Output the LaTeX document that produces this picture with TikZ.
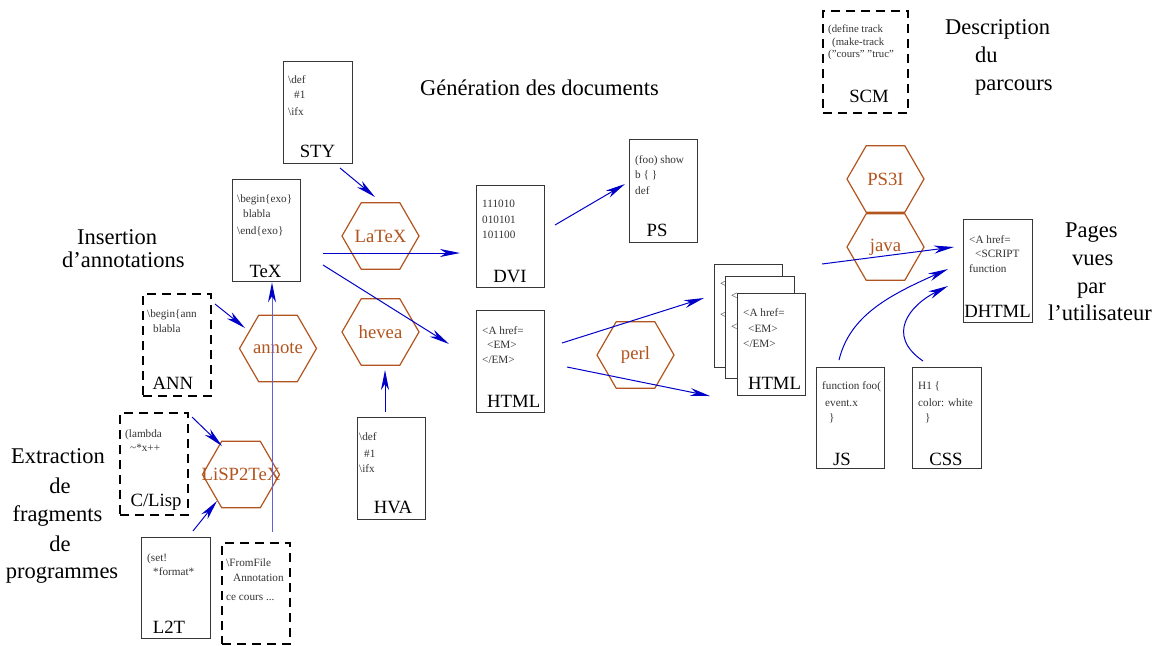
\documentclass[tikz,border=0pt]{standalone}
\usepackage{fontspec}
\setmainfont{Liberation Serif}
\usetikzlibrary{arrows.meta,shapes.geometric}
\definecolor{hexc}{RGB}{178,84,30}
\definecolor{arrc}{RGB}{0,0,200}
\definecolor{vlc}{RGB}{95,95,225}
\definecolor{boxc}{RGB}{55,55,55}
\begin{document}
\begin{tikzpicture}[x=1pt,y=-1pt,
 docbox/.style={draw=boxc, line width=1.3pt, fill=white, rectangle, inner sep=0pt, anchor=north west},
 dashbox/.style={draw=black, line width=2pt, dash pattern=on 9pt off 6pt, rectangle, inner sep=0pt, anchor=north west},
 hexbox/.style={regular polygon, regular polygon sides=6, minimum size=77pt, inner sep=0pt, outer sep=0pt, draw=hexc, line width=1.2pt},
 hexlab/.style={text=hexc, font=\fontsize{18.7}{20}\selectfont, inner sep=0pt},
 code/.style={anchor=base west, inner sep=0pt, font=\fontsize{11.2}{13}\selectfont, text=black!80},
 lab/.style={anchor=base, inner sep=0pt, font=\fontsize{18.7}{20}\selectfont},
 big/.style={inner sep=0pt, font=\fontsize{22.5}{26}\selectfont},
 bigw/.style={big, anchor=base west},
 bigc/.style={big, anchor=base},
 arr/.style={draw=arrc, line width=1pt, -{Stealth[length=20pt,width=8pt,inset=6pt]}},
]
\useasboundingbox (0,0) rectangle (1161,645);

% ---------- hexagons ----------
\node[hexbox, label={[hexlab]center:LaTeX}] (latex) at (380.5,236) {};
\node[hexbox, label={[hexlab]center:hevea}] (hevea) at (380.5,332) {};
\node[hexbox, label={[hexlab]center:annote}] (annote) at (278,348.5) {};
\node[hexbox, label={[hexlab]center:LiSP2TeX}] (lisp2tex) at (241,474.5) {};
\node[hexbox, label={[hexlab]center:perl}] (perl) at (635.5,355) {};
\node[hexbox, label={[hexlab]center:PS3I}] (ps3i) at (885.5,179) {};
\node[hexbox, label={[hexlab]center:java}] (java) at (885.5,247) {};

% ---------- STY ----------
\node[docbox, minimum width=69pt, minimum height=102pt] (sty) at (283,61) {};
\node[code] at (288,83) {\textbackslash def};
\node[code] at (294,98) {\#1};
\node[code] at (288,115) {\textbackslash ifx};
\node[lab] at (317.5,157) {STY};

% ---------- TeX ----------
\node[docbox, minimum width=68pt, minimum height=102pt] (tex) at (232,179) {};
\node[code] at (237,202) {\textbackslash begin\{exo\}};
\node[code] at (243,217) {blabla};
\node[code] at (237,234) {\textbackslash end\{exo\}};
\node[lab] at (265.5,277) {TeX};

% ---------- DVI ----------
\node[docbox, minimum width=68pt, minimum height=102pt] (dvi) at (476,185) {};
\node[code] at (482,207) {111010};
\node[code] at (482,223) {010101};
\node[code] at (482,238) {101100};
\node[lab] at (510,282) {DVI};

% ---------- HTML ----------
\node[docbox, minimum width=68pt, minimum height=102pt] (html) at (476,310) {};
\node[code] at (482,334) {<A href=};
\node[code] at (487,348) {<EM>};
\node[code] at (482,363) {</EM>};
\node[lab] at (513.7,407) {HTML};

% ---------- HVA ----------
\node[docbox, minimum width=68pt, minimum height=102pt] (hva) at (357,417) {};
\node[code] at (359,440) {\textbackslash def};
\node[code] at (364,457) {\#1};
\node[code] at (359,472) {\textbackslash ifx};
\node[lab] at (393,513) {HVA};

% ---------- ANN ----------
\node[dashbox, minimum width=68pt, minimum height=102pt] (ann) at (142,293) {};
\node[code] at (147,317) {\textbackslash begin\{ann};
\node[code] at (153,332) {blabla};
\node[lab] at (173,389) {ANN};

% ---------- C/Lisp ----------
\node[dashbox, minimum width=68pt, minimum height=102pt] (clisp) at (119,412) {};
\node[code] at (125,437) {(lambda};
\node[code] at (130,451) {\textasciitilde*x++};
\node[lab] at (156,506) {C/Lisp};

% ---------- L2T ----------
\node[docbox, minimum width=69pt, minimum height=101pt] (l2t) at (141,537) {};
\node[code] at (147,561) {(set!};
\node[code] at (153,575) {*format*};
\node[lab] at (169,633) {L2T};

% ---------- FromFile ----------
\node[dashbox, minimum width=68pt, minimum height=101pt] (ff) at (221,542) {};
\node[code] at (226,566) {\textbackslash FromFile};
\node[code] at (233,581) {Annotation};
\node[code] at (226,600) {ce cours ...};

% ---------- PS ----------
\node[docbox, minimum width=68pt, minimum height=103pt] (ps) at (629,139) {};
\node[code] at (635,163) {(foo) show};
\node[code] at (635,178) {b \{ \}};
\node[code] at (635,194) {def};
\node[lab] at (657,236) {PS};

% ---------- HTML stack (back pages show only their first characters) ----------
\node[docbox, minimum width=68pt, minimum height=103pt] (hback) at (714,264) {};
\node[code] at (720,287) {<};
\node[code] at (720,318) {<};
\node[docbox, minimum width=69pt, minimum height=102pt] (hmid) at (725,276) {};
\node[code] at (731,299) {<};
\node[code] at (731,330) {<};
\node[docbox, minimum width=68pt, minimum height=102pt] (hfront) at (737,293) {};
\node[code] at (743,316) {<A href=};
\node[code] at (748,332) {<EM>};
\node[code] at (743,347) {</EM>};
\node[lab] at (774.5,389) {HTML};

% ---------- DHTML ----------
\node[docbox, minimum width=69pt, minimum height=103pt] (dhtml) at (963,219) {};
\node[code] at (969,243) {<A href=};
\node[code] at (975,257) {<SCRIPT};
\node[code] at (969,272) {function};
\node[lab] at (997.5,317) {DHTML};

% ---------- JS ----------
\node[docbox, minimum width=68pt, minimum height=101pt] (js) at (816,367) {};
\node[code] at (822,389) {function foo(};
\node[code] at (825,406) {event.x};
\node[code] at (829,421) {\}};
\node[lab] at (842,465) {JS};

% ---------- CSS ----------
\node[docbox, minimum width=69pt, minimum height=101pt] (css) at (912,367) {};
\node[code] at (918,389) {H1 \{};
\node[code] at (918,406) {color: white};
\node[code] at (925,421) {\}};
\node[lab] at (946,465) {CSS};

% ---------- SCM ----------
\node[dashbox, minimum width=85pt, minimum height=102pt] (scm) at (822,10) {};
\node[code, font=\fontsize{10.8}{12}\selectfont] at (828,32) {(define track};
\node[code, font=\fontsize{10.8}{12}\selectfont] at (832,45) {(make-track};
\node[code, font=\fontsize{10.8}{12}\selectfont] at (828,57) {("cours" "truc"};
\node[lab] at (869,102) {SCM};

% ---------- big texts ----------
\node[bigc] (gen) at (539.5,95) {Génération des documents};
\node[bigw] (desc1) at (945,34) {Description};
\node[bigw] (desc2) at (975,62) {du};
\node[bigw] (desc3) at (975,90) {parcours};
\node[bigw] (pv1) at (1065,237) {Pages};
\node[bigw] (pv2) at (1072,265) {vues};
\node[bigw] (pv3) at (1077,293) {par};
\node[bigw] (pv4) at (1048,320) {l'utilisateur};
\node[bigw] (ins1) at (77,244) {Insertion};
\node[bigw] (ins2) at (62,267) {d'annotations};
\node[bigc] (ex1) at (58,463) {Extraction};
\node[bigc] (ex2) at (60,493) {de};
\node[bigc] (ex3) at (57.5,521) {fragments};
\node[bigc] (ex4) at (60,551) {de};
\node[bigc] (ex5) at (62,578) {programmes};

% ---------- connector ends ----------
\coordinate (styS) at (340,168);   \coordinate (latexN) at (375,197);
\coordinate (texE1) at (323,253);  \coordinate (dviW) at (460,253);
\coordinate (texE2) at (323,265);  \coordinate (htmlW) at (449,344);
\coordinate (hvaN) at (385,412);   \coordinate (heveaS) at (385,370);
\coordinate (annE) at (215,304);   \coordinate (annoteW) at (245,328);
\coordinate (clispE) at (192,417); \coordinate (l2tN1) at (222,446);
\coordinate (l2tN) at (193,531);   \coordinate (l2tN2) at (217,501);
\coordinate (ffN) at (272,532);
\coordinate (dviE) at (555,225);   \coordinate (psW) at (625,184);
\coordinate (htmlE1) at (562,343); \coordinate (stackW1) at (704,298);
\coordinate (htmlE2) at (567,367); \coordinate (stackW2) at (710,396);
\coordinate (stackE) at (822,264); \coordinate (dhtmlW1) at (954,247);
\coordinate (jsN) at (839,360);    \coordinate (dhtmlW2) at (948,269);
\coordinate (cssN) at (923,361);   \coordinate (dhtmlW3) at (948,286);

% ---------- connectors ----------
\draw[arr] (styS) -- (latexN);
\draw[arr] (texE1) -- (dviW);
\draw[arr] (texE2) -- (htmlW);
\draw[arr] (hvaN) -- (heveaS);
\draw[arr] (annE) -- (annoteW);
\draw[arr] (clispE) -- (l2tN1);
\draw[arr] (l2tN) -- (l2tN2);
\draw[arr, draw=vlc, -{Stealth[length=20pt,width=8pt,inset=6pt,color=arrc]}] (ffN) -- (ffN |- tex.south);
\draw[arr] (dviE) -- (psW);
\draw[arr] (htmlE1) -- (stackW1);
\draw[arr] (htmlE2) -- (stackW2);
\draw[arr] (stackE) -- (dhtmlW1);
\draw[arr] (jsN) .. controls (850,315) and (890,295) .. (dhtmlW2);
\draw[arr] (cssN) .. controls (885,335) and (910,305) .. (dhtmlW3);
\end{tikzpicture}
\end{document}
